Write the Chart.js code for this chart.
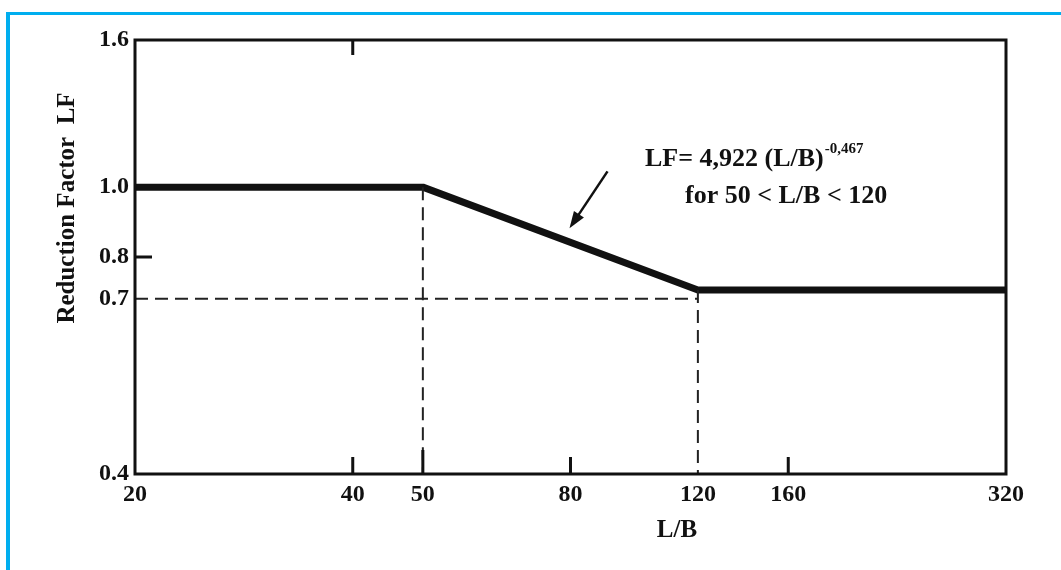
<!DOCTYPE html>
<html>
<head>
<meta charset="utf-8">
<script src="https://cdn.jsdelivr.net/npm/chart.js@4"></script>
<style>
  html, body { margin: 0; padding: 0; background: #fff; }
  #wrap { position: relative; width: 1061px; height: 570px; overflow: hidden; }
  #frame { position: absolute; left: 6px; top: 12px; right: -10px; bottom: -10px;
           border-top: 3px solid #00aeef; border-left: 4px solid #00aeef; }
  canvas { position: absolute; left: 0; top: 0; }
</style>
</head>
<body>
<div id="wrap">
  <div id="frame"></div>
  <canvas id="lfChart" width="1061" height="570"></canvas>
</div>
<script>
// axis ticks
const lbTicks = [20, 40, 50, 80, 120, 160, 320];
const lfTicks = [0.4, 0.7, 0.8, 1.0, 1.6];

// reduction factor curve
const curveLB = [20, 50, 120, 320];
const curveLF = [1.0, 1.0, 0.72, 0.72];

// dashed guide lines
const guideLF = 0.7;
const guideLB = [50, 120];

// small inner tick marks on the frame
const bottomMarks = [40, 50, 80, 160];
const topMarks = [40];
const leftMarks = [0.8];

const serif = '"Liberation Serif", "DejaVu Serif", serif';
const ink = '#111';

const pts = (xs, ys) => xs.map((x, i) => ({ x: x, y: ys[i] }));

// value of the curve at a given L/B (log-log interpolation), used to place the arrow
function curveAt(lb) {
  for (let i = 1; i < curveLB.length; i++) {
    if (lb <= curveLB[i]) {
      const t = Math.log(lb / curveLB[i - 1]) / Math.log(curveLB[i] / curveLB[i - 1]);
      return Math.exp(Math.log(curveLF[i - 1]) + t * Math.log(curveLF[i] / curveLF[i - 1]));
    }
  }
  return curveLF[curveLF.length - 1];
}

const decorPlugin = {
  id: 'decor',
  afterDatasetsDraw(chart) {
    const ctx = chart.ctx;
    const a = chart.chartArea;
    const xs = chart.scales.x, ys = chart.scales.y;
    ctx.save();

    // frame
    ctx.strokeStyle = ink;
    ctx.lineWidth = 3;
    ctx.strokeRect(a.left, a.top, a.right - a.left, a.bottom - a.top);

    // inner tick marks
    ctx.lineWidth = 3;
    ctx.beginPath();
    bottomMarks.forEach(v => {
      const px = xs.getPixelForValue(v);
      ctx.moveTo(px, a.bottom);
      ctx.lineTo(px, a.bottom - (v === 50 ? 24 : 17));
    });
    topMarks.forEach(v => {
      const px = xs.getPixelForValue(v);
      ctx.moveTo(px, a.top);
      ctx.lineTo(px, a.top + 15);
    });
    leftMarks.forEach(v => {
      const py = ys.getPixelForValue(v);
      ctx.moveTo(a.left, py);
      ctx.lineTo(a.left + 17, py);
    });
    ctx.stroke();

    ctx.fillStyle = ink;

    // y axis title
    ctx.save();
    ctx.translate(a.left - 67, a.top + 168);
    ctx.rotate(-Math.PI / 2);
    ctx.font = 'bold 25px ' + serif;
    ctx.textAlign = 'center';
    ctx.textBaseline = 'middle';
    ctx.fillText('Reduction Factor  LF', 0, 0);
    ctx.restore();

    // x axis title
    ctx.font = 'bold 25px ' + serif;
    ctx.textAlign = 'center';
    ctx.textBaseline = 'middle';
    ctx.fillText('L/B', a.left + 542, a.bottom + 57);

    // formula annotation
    ctx.textAlign = 'left';
    ctx.textBaseline = 'alphabetic';
    ctx.font = 'bold 26px ' + serif;
    const l1 = 'LF= 4,922 (L/B)';
    const x1 = a.left + 510, b1 = a.top + 126;
    ctx.fillText(l1, x1, b1);
    const w1 = ctx.measureText(l1).width;
    ctx.font = 'bold 15px ' + serif;
    ctx.fillText('-0,467', x1 + w1 + 1, b1 - 13);
    ctx.font = 'bold 26px ' + serif;
    ctx.fillText('for 50 < L/B < 120', a.left + 550, a.top + 163);

    // arrow pointing at the sloped part
    const tipX = xs.getPixelForValue(80) - 1;
    const tipY = ys.getPixelForValue(curveAt(80)) - 14;
    const tailX = tipX + 38, tailY = tipY - 57;
    const ang = Math.atan2(tipY - tailY, tipX - tailX);
    ctx.lineWidth = 2.5;
    ctx.beginPath();
    ctx.moveTo(tailX, tailY);
    ctx.lineTo(tipX - 12 * Math.cos(ang), tipY - 12 * Math.sin(ang));
    ctx.stroke();
    ctx.beginPath();
    ctx.moveTo(tipX, tipY);
    ctx.lineTo(tipX - 17 * Math.cos(ang) + 6 * Math.sin(ang), tipY - 17 * Math.sin(ang) - 6 * Math.cos(ang));
    ctx.lineTo(tipX - 17 * Math.cos(ang) - 6 * Math.sin(ang), tipY - 17 * Math.sin(ang) + 6 * Math.cos(ang));
    ctx.closePath();
    ctx.fill();

    ctx.restore();
  }
};

const dashed = {
  borderColor: '#222',
  borderWidth: 2,
  borderDash: [13, 7],
  pointRadius: 0,
  showLine: true,
  fill: false
};

new Chart(document.getElementById('lfChart'), {
  type: 'scatter',
  data: {
    datasets: [
      Object.assign({ data: pts([lbTicks[0], guideLB[1]], [guideLF, guideLF]) }, dashed),
      Object.assign({ data: pts([guideLB[0], guideLB[0]], [curveLF[1], lfTicks[0]]) }, dashed),
      Object.assign({ data: pts([guideLB[1], guideLB[1]], [curveLF[2], lfTicks[0]]) }, dashed),
      {
        label: 'LF',
        data: pts(curveLB, curveLF),
        borderColor: ink,
        borderWidth: 7,
        borderJoinStyle: 'round',
        pointRadius: 0,
        showLine: true,
        fill: false,
        clip: false
      }
    ]
  },
  options: {
    responsive: false,
    animation: false,
    layout: { padding: { top: 40, right: 55, left: 0, bottom: 0 } },
    plugins: { legend: { display: false }, tooltip: { enabled: false } },
    scales: {
      x: {
        type: 'logarithmic',
        min: 20,
        max: 320,
        afterBuildTicks: s => { s.ticks = lbTicks.map(v => ({ value: v })); },
        afterFit: s => { s.height = 96; },
        grid: { display: false, drawTicks: false },
        border: { display: false },
        ticks: {
          autoSkip: false,
          maxRotation: 0,
          padding: 6,
          color: ink,
          font: { family: serif, size: 24, weight: 'bold' },
          callback: v => String(v)
        }
      },
      y: {
        type: 'logarithmic',
        min: 0.4,
        max: 1.6,
        afterBuildTicks: s => { s.ticks = lfTicks.map(v => ({ value: v })); },
        afterFit: s => { s.width = 135; },
        grid: { display: false, drawTicks: false },
        border: { display: false },
        ticks: {
          autoSkip: false,
          padding: 6,
          color: ink,
          font: { family: serif, size: 24, weight: 'bold' },
          callback: v => v.toFixed(1)
        }
      }
    }
  },
  plugins: [decorPlugin]
});
</script>
</body>
</html>
